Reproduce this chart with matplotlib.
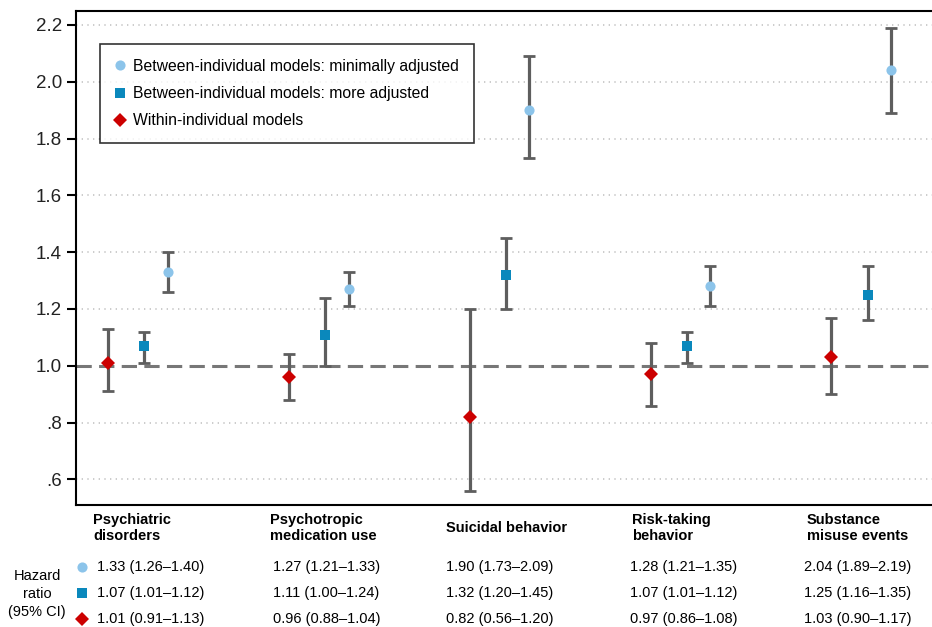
import matplotlib
matplotlib.use("Agg")
import matplotlib.pyplot as plt
from matplotlib.lines import Line2D
from matplotlib.ticker import FuncFormatter
import numpy as np

plt.rcParams['font.family'] = ['Liberation Sans', 'DejaVu Sans']

categories = ["Psychiatric\ndisorders", "Psychotropic\nmedication use", "Suicidal behavior",
              "Risk-taking\nbehavior", "Substance\nmisuse events"]

min_hr = [1.33, 1.27, 1.90, 1.28, 2.04]
min_lo = [1.26, 1.21, 1.73, 1.21, 1.89]
min_hi = [1.40, 1.33, 2.09, 1.35, 2.19]

more_hr = [1.07, 1.11, 1.32, 1.07, 1.25]
more_lo = [1.01, 1.00, 1.20, 1.01, 1.16]
more_hi = [1.12, 1.24, 1.45, 1.12, 1.35]

within_hr = [1.01, 0.96, 0.82, 0.97, 1.03]
within_lo = [0.91, 0.88, 0.56, 0.86, 0.90]
within_hi = [1.13, 1.04, 1.20, 1.08, 1.17]

yticks = [0.6, 0.8, 1.0, 1.2, 1.4, 1.6, 1.8, 2.0, 2.2]

labels = ["Between-individual models: minimally adjusted",
          "Between-individual models: more adjusted",
          "Within-individual models"]

C_MIN = '#8CC4EA'
C_MORE = '#0A88BC'
C_WITH = '#CC0000'
C_BAR = '#5E5E5E'

W, H = 932, 627
fig = plt.figure(figsize=(W / 100, H / 100), dpi=100)
ax_l, ax_r, ax_t, ax_b = 76, 940, 11, 505
ax = fig.add_axes([ax_l / W, 1 - ax_b / H, (ax_r - ax_l) / W, (ax_b - ax_t) / H])

x = np.arange(len(categories), dtype=float)
offsets = {'with': 0.0, 'more': 0.2, 'min': 0.33}

series = [
    ('with', within_hr, within_lo, within_hi, 'D', C_WITH, 6.8),
    ('more', more_hr, more_lo, more_hi, 's', C_MORE, 7.3),
    ('min', min_hr, min_lo, min_hi, 'o', C_MIN, 7.3),
]

for key, hr, lo, hi, mk, col, ms in series:
    hr = np.array(hr); lo = np.array(lo); hi = np.array(hi)
    xs = x + offsets[key]
    ax.errorbar(xs, hr, yerr=[hr - lo, hi - hr], fmt='none', ecolor=C_BAR,
                elinewidth=2.3, capsize=4.5, capthick=2.0, zorder=3)
    ax.plot(xs, hr, linestyle='none', marker=mk, color=col, markersize=ms,
            markeredgewidth=0, zorder=4)

ax.axhline(1.0, color='#777777', lw=2.2, dashes=(5, 2.4), zorder=2)

for yv in yticks:
    if yv != 1.0:
        ax.axhline(yv, color='#c4c4c4', lw=1.2, dashes=(0.8, 2.6), zorder=1)

ax.set_xlim(-0.177, 4.6)
ax.set_ylim(0.51, 2.249)
ax.set_yticks(yticks)
ax.yaxis.set_major_formatter(FuncFormatter(
    lambda v, p: (f"{v:.1f}" if v >= 1 else f"{v:.1f}"[1:])))
ax.set_xticks([])
ax.tick_params(axis='y', direction='out', length=6.5, width=1.5, pad=3.5,
               labelsize=13.5, colors='black', labelcolor='#222222')
for s in ['left', 'top', 'bottom']:
    ax.spines[s].set_linewidth(1.5)
    ax.spines[s].set_color('black')
ax.spines['right'].set_visible(False)

handles = [
    Line2D([], [], linestyle='none', marker='o', color=C_MIN, markersize=7.3, markeredgewidth=0),
    Line2D([], [], linestyle='none', marker='s', color=C_MORE, markersize=7.0, markeredgewidth=0),
    Line2D([], [], linestyle='none', marker='D', color=C_WITH, markersize=6.8, markeredgewidth=0),
]
leg = ax.legend(handles, labels, loc='upper left',
                bbox_to_anchor=((100 - ax_l) / (ax_r - ax_l), 1 - (44 - ax_t) / (ax_b - ax_t)),
                fontsize=11.3, frameon=True, fancybox=False, edgecolor='black',
                borderpad=0.95, handlelength=0.6, handletextpad=0.55, labelspacing=0.78,
                borderaxespad=0)
leg.get_frame().set_linewidth(1.2)

# category labels under the axis
cat_x = [93, 270, 446, 632, 807]
for cx, lab in zip(cat_x, categories):
    fig.text(cx / W, 1 - 528 / H, lab, ha='left', va='center', fontsize=10.5,
             fontweight='bold', linespacing=1.25)

# hazard ratio table
fig.text(37 / W, 1 - 594 / H, "Hazard\nratio\n(95% CI)", ha='center', va='center',
         fontsize=10.5, linespacing=1.35)

row_y = [567, 593, 619]
row_series = [(min_hr, min_lo, min_hi, 'o', C_MIN, 7.3),
              (more_hr, more_lo, more_hi, 's', C_MORE, 7.0),
              (within_hr, within_lo, within_hi, 'D', C_WITH, 6.8)]
val_x = [97, 273, 446, 630, 804]
for ry, (hr, lo, hi, mk, col, ms) in zip(row_y, row_series):
    fig.add_artist(Line2D([82 / W], [1 - ry / H], transform=fig.transFigure,
                          linestyle='none', marker=mk, color=col, markersize=ms,
                          markeredgewidth=0))
    for vx, a, b, c in zip(val_x, hr, lo, hi):
        fig.text(vx / W, 1 - ry / H, f"{a:.2f} ({b:.2f}\u2013{c:.2f})", ha='left',
                 va='center', fontsize=10.5)

fig.savefig("out.png", dpi=100)
